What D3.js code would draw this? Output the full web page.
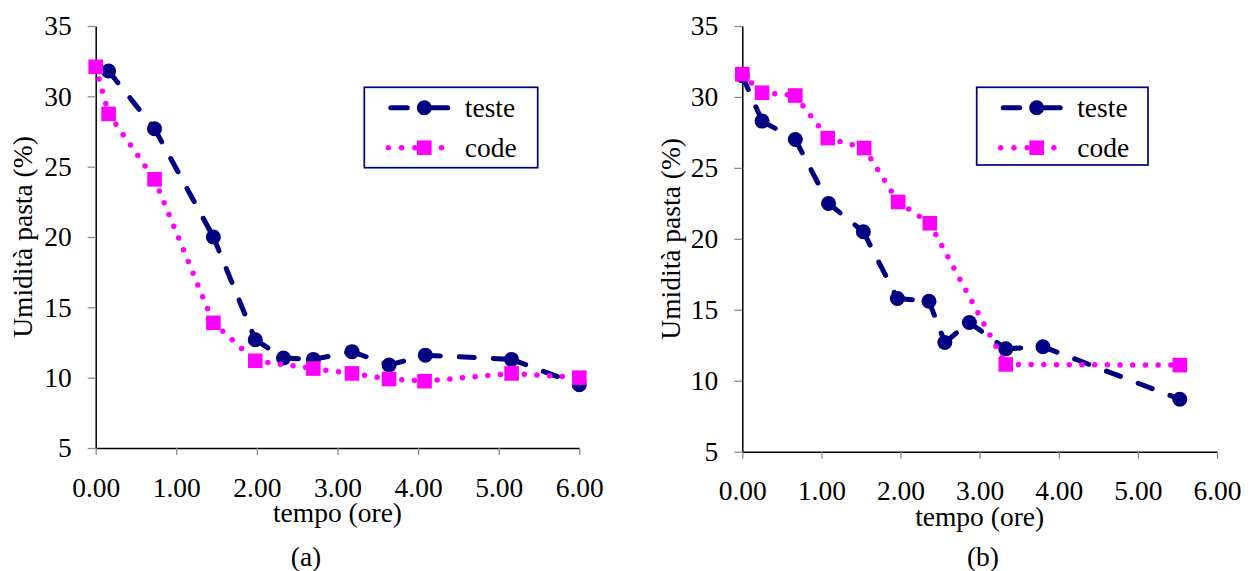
<!DOCTYPE html>
<html>
<head>
<meta charset="utf-8">
<script src="https://cdn.jsdelivr.net/npm/d3@7"></script>
<style>
  html, body { margin: 0; padding: 0; background: #ffffff; }
  svg { display: block; }
  text { font-family: "Liberation Serif", "Times New Roman", serif; fill: #000; }
</style>
</head>
<body>
<svg id="chart" width="1250" height="571"></svg>
<script>
// Drying of pasta: moisture (%) against time (hours), two runs.
const seriesNames = ["teste", "code"];
const xTicks = [0, 1, 2, 3, 4, 5, 6];
const yTicks = [5, 10, 15, 20, 25, 30, 35];
const panelLabels = ["(a)", "(b)"];
const xTitle = "tempo (ore)";
const yTitle = "Umidità pasta (%)";

// Run (a)
const timeA_teste = [0.16, 0.73, 1.46, 1.98, 2.33, 2.70, 3.18, 3.64, 4.09, 5.16, 6.00];
const umidA_teste = [31.8, 27.7, 20.0, 12.7, 11.4, 11.3, 11.85, 10.9, 11.6, 11.3, 9.5];
const timeA_code  = [0.00, 0.16, 0.73, 1.46, 1.98, 2.70, 3.18, 3.64, 4.08, 5.16, 6.00];
const umidA_code  = [32.1, 28.75, 24.1, 13.9, 11.2, 10.65, 10.3, 9.9, 9.75, 10.3, 10.0];

// Run (b)
const timeB_teste = [0.00, 0.25, 0.67, 1.09, 1.53, 1.96, 2.36, 2.56, 2.87, 3.33, 3.80, 5.53];
const umidB_teste = [31.5, 28.3, 27.0, 22.5, 20.5, 15.8, 15.6, 12.7, 14.1, 12.25, 12.4, 8.7];
const timeB_code  = [0.00, 0.25, 0.67, 1.08, 1.54, 1.97, 2.37, 3.33, 5.53];
const umidB_code  = [31.6, 30.3, 30.1, 27.1, 26.4, 22.6, 21.1, 11.15, 11.1];

const NAVY = "#000080";
const MAGENTA = "#ff00ff";
const FONT = 27.5;

const svg = d3.select("#chart");

function zip(xs, ys) { return xs.map((x, i) => ({ x, y: ys[i] })); }

const panels = [
  {
    label: panelLabels[0], labelX: 306,
    xRange: [95.7, 579.3], yRange: [448, 26],
    titleX: 22.5,
    legend: { x: 364.3, y: 87.3, w: 173.4, h: 80.4 },
    teste: zip(timeA_teste, umidA_teste),
    code: zip(timeA_code, umidA_code)
  },
  {
    label: panelLabels[1], labelX: 983,
    xRange: [742.3, 1217], yRange: [451.7, 26],
    titleX: 670,
    legend: { x: 976.7, y: 87.3, w: 171.3, h: 77.7 },
    teste: zip(timeB_teste, umidB_teste),
    code: zip(timeB_code, umidB_code)
  }
];

panels.forEach(p => {
  const x = d3.scaleLinear().domain([0, 6]).range(p.xRange);
  const y = d3.scaleLinear().domain([5, 35]).range(p.yRange);
  const g = svg.append("g");

  // Y axis
  const yAxis = g.append("g")
    .attr("transform", `translate(${p.xRange[0]},0)`)
    .call(d3.axisLeft(y).tickValues(yTicks).tickSize(8).tickSizeOuter(0).tickPadding(16).tickFormat(d3.format("d")));
  // X axis
  const xAxis = g.append("g")
    .attr("transform", `translate(0,${p.yRange[0]})`)
    .call(d3.axisBottom(x).tickValues(xTicks).tickSize(7).tickSizeOuter(0).tickPadding(22).tickFormat(d3.format(".2f")));

  [yAxis, xAxis].forEach(a => {
    a.select(".domain").attr("stroke", "#000").attr("stroke-width", 1.5);
    a.selectAll(".tick line").attr("stroke", "#8c8c8c").attr("stroke-width", 1.3);
    a.selectAll(".tick text")
      .style("font-family", "'Liberation Serif', 'Times New Roman', serif")
      .style("font-size", FONT + "px")
      .attr("fill", "#000");
  });

  // Titles
  g.append("text")
    .attr("x", (p.xRange[0] + p.xRange[1]) / 2)
    .attr("y", p.yRange[0] + 74)
    .attr("text-anchor", "middle")
    .style("font-size", FONT + "px")
    .text(xTitle);
  g.append("text")
    .attr("transform", `translate(${p.titleX},${(p.yRange[0] + p.yRange[1]) / 2}) rotate(-90)`)
    .attr("text-anchor", "middle")
    .attr("dy", "0.35em")
    .style("font-size", FONT + "px")
    .text(yTitle);
  g.append("text")
    .attr("x", p.labelX)
    .attr("y", 566)
    .attr("text-anchor", "middle")
    .style("font-size", FONT + "px")
    .text(p.label);

  const line = d3.line().x(d => x(d.x)).y(d => y(d.y));

  // teste: long dashes, restarted on each segment
  const tg = g.append("g");
  d3.pairs(p.teste).forEach(seg => {
    tg.append("path")
      .attr("d", line(seg))
      .attr("fill", "none")
      .attr("stroke", NAVY)
      .attr("stroke-width", 5)
      .attr("stroke-linecap", "round")
      .attr("stroke-dasharray", "15,19");
  });
  tg.selectAll("circle").data(p.teste).join("circle")
    .attr("cx", d => x(d.x)).attr("cy", d => y(d.y))
    .attr("r", 7.5).attr("fill", NAVY);

  // code: round dots
  const cg = g.append("g");
  d3.pairs(p.code).forEach(seg => {
    cg.append("path")
      .attr("d", line(seg))
      .attr("fill", "none")
      .attr("stroke", MAGENTA)
      .attr("stroke-width", 5.5)
      .attr("stroke-linecap", "round")
      .attr("stroke-dasharray", "0,12.7");
  });
  cg.selectAll("rect").data(p.code).join("rect")
    .attr("x", d => x(d.x) - 7.3).attr("y", d => y(d.y) - 7.3)
    .attr("width", 14.6).attr("height", 14.6)
    .attr("fill", MAGENTA);

  // Legend
  const L = p.legend;
  const lg = g.append("g").attr("transform", `translate(${L.x},${L.y})`);
  lg.append("rect")
    .attr("width", L.w).attr("height", L.h)
    .attr("fill", "#fff").attr("stroke", NAVY).attr("stroke-width", 1.7);
  const r1 = 20.4, r2 = 60.4, sx0 = 24, sx1 = 86, sc = 60, tx = 100.5;
  [[sx0 + 2.5, 43], [68, sx1 - 2.5]].forEach(([a, b]) => {
    lg.append("line").attr("x1", a).attr("x2", b).attr("y1", r1).attr("y2", r1)
      .attr("stroke", NAVY).attr("stroke-width", 5).attr("stroke-linecap", "round");
  });
  lg.append("circle").attr("cx", sc).attr("cy", r1).attr("r", 7.5).attr("fill", NAVY);
  lg.append("line").attr("x1", sx0).attr("x2", sx1 + 4).attr("y1", r2).attr("y2", r2)
    .attr("stroke", MAGENTA).attr("stroke-width", 5.5).attr("stroke-linecap", "round")
    .attr("stroke-dasharray", "0,13.3");
  lg.append("rect").attr("x", sc - 7.3).attr("y", r2 - 7.3).attr("width", 14.6).attr("height", 14.6).attr("fill", MAGENTA);
  lg.append("text").attr("x", tx).attr("y", r1).attr("dy", "0.35em").style("font-size", FONT + "px").text(seriesNames[0]);
  lg.append("text").attr("x", tx).attr("y", r2).attr("dy", "0.35em").style("font-size", FONT + "px").text(seriesNames[1]);
});
</script>
</body>
</html>
